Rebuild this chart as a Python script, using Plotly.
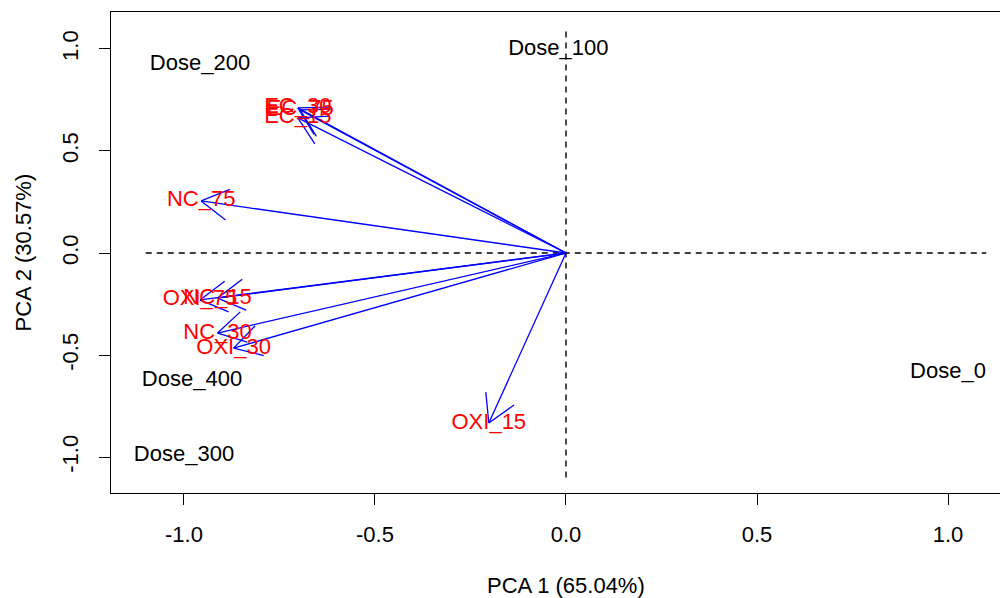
import math
import plotly.graph_objects as go

# ---- data ----
var_names = ["EC_15", "EC_30", "EC_75", "NC_15", "NC_30", "NC_75", "OXI_15", "OXI_30", "OXI_75"]
var_pc1 = [-0.702, -0.702, -0.696, -0.912, -0.912, -0.955, -0.202, -0.870, -0.958]
var_pc2 = [0.662, 0.711, 0.701, -0.221, -0.392, 0.255, -0.833, -0.466, -0.230]

dose_names = ["Dose_0", "Dose_100", "Dose_200", "Dose_300", "Dose_400"]
dose_pc1 = [1.000, -0.020, -0.958, -1.000, -0.979]
dose_pc2 = [-0.585, 0.995, 0.926, -0.990, -0.623]

tick_vals = [-1.0, -0.5, 0.0, 0.5, 1.0]
tick_text = ["-1.0", "-0.5", "0.0", "0.5", "1.0"]
ref_extent = [-1.1, 1.1]

x_title = "PCA 1 (65.04%)"
y_title = "PCA 2 (30.57%)"

# ---- layout geometry (page body has an 8px margin) ----
W, H = 1000, 590
ML, MR, MT, MB = 103, 0, 4, 105
x_range = [-1.191, 1.157]
y_range = [-1.176, 1.181]
PW, PH = W - ML - MR, H - MT - MB
sx = PW / (x_range[1] - x_range[0])
sy = PH / (y_range[1] - y_range[0])

FONT = "Liberation Sans, Arial, sans-serif"
FS = 22

fig = go.Figure()

# dashed reference lines
fig.add_trace(go.Scatter(x=ref_extent, y=[0, 0], mode="lines",
                         line=dict(color="black", width=1.4, dash="6px,5px"),
                         hoverinfo="skip", showlegend=False))
fig.add_trace(go.Scatter(x=[0, 0], y=ref_extent, mode="lines",
                         line=dict(color="black", width=1.4, dash="6px,5px"),
                         hoverinfo="skip", showlegend=False))

# arrows (shaft + open head, head computed in pixel space)
head_len = 31.0
head_ang = math.radians(30)
ax, ay = [], []
for x, y in zip(var_pc1, var_pc2):
    px, py = x * sx, y * sy
    n = math.hypot(px, py)
    ux, uy = px / n, py / n
    ax += [0, x, None]
    ay += [0, y, None]
    for s in (1, -1):
        c, si = math.cos(s * head_ang), math.sin(s * head_ang)
        rx, ry = ux * c - uy * si, ux * si + uy * c
        wx, wy = px - head_len * rx, py - head_len * ry
        ax += [wx / sx, x, None]
        ay += [wy / sy, y, None]
fig.add_trace(go.Scatter(x=ax, y=ay, mode="lines",
                         line=dict(color="#0000FF", width=1.3),
                         hoverinfo="skip", showlegend=False))

# variable labels
fig.add_trace(go.Scatter(x=var_pc1, y=var_pc2, mode="text", text=var_names,
                         textposition="middle center",
                         textfont=dict(family=FONT, size=FS, color="#FF0000"),
                         showlegend=False))

# dose labels
fig.add_trace(go.Scatter(x=dose_pc1, y=dose_pc2, mode="text", text=dose_names,
                         textposition="middle center",
                         textfont=dict(family=FONT, size=FS, color="black"),
                         showlegend=False))

axis_common = dict(showgrid=False, zeroline=False, showline=True, linecolor="black",
                   linewidth=1.4, ticks="outside", ticklen=11, tickwidth=1.3,
                   tickcolor="black", tickvals=tick_vals, ticktext=tick_text,
                   tickfont=dict(family=FONT, size=FS, color="black"))

OFF = 8
fig.update_layout(
    width=W, height=H,
    margin=dict(l=ML, r=MR, t=MT, b=MB),
    paper_bgcolor="white", plot_bgcolor="white",
    xaxis=dict(range=x_range, mirror=True, ticklabelstandoff=10, **axis_common),
    yaxis=dict(range=y_range, mirror=False, tickangle=-90, ticklabelstandoff=12, **axis_common),
    annotations=[
        dict(text=x_title, xref="paper", yref="paper", x=(565.5 - OFF - ML) / PW,
             y=-(585 - OFF - (H - MB)) / PH, xanchor="center", yanchor="middle",
             showarrow=False, font=dict(family=FONT, size=FS, color="black")),
        dict(text=y_title, xref="paper", yref="paper", x=(23 - OFF - ML) / PW,
             y=0.5, xanchor="center", yanchor="middle", textangle=-90,
             showarrow=False, font=dict(family=FONT, size=FS, color="black")),
    ],
)

fig.write_html("out.html")
